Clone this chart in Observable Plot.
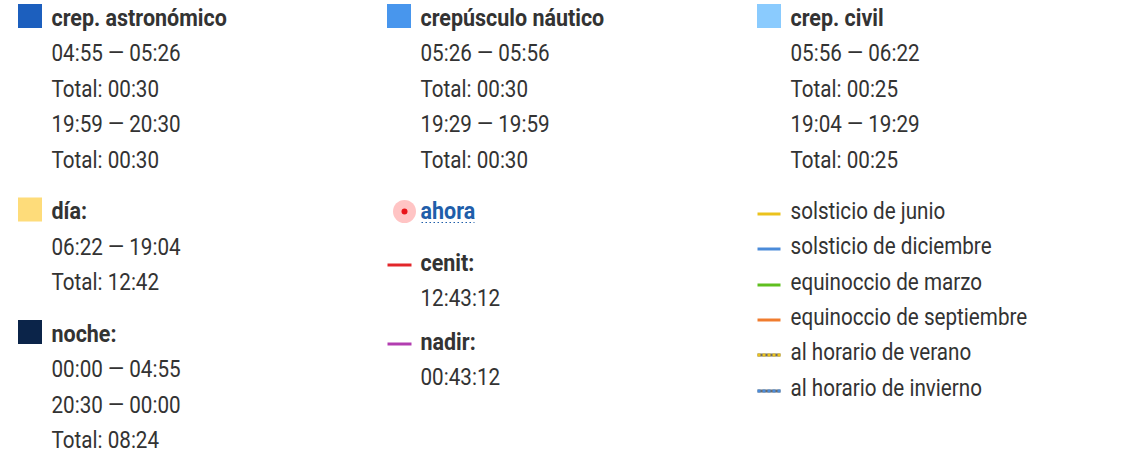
<!DOCTYPE html>
<html>
<head>
<meta charset="utf-8">
<script src="https://cdn.jsdelivr.net/npm/d3@7"></script>
<script src="https://cdn.jsdelivr.net/npm/@observablehq/plot@0.6"></script>
<style>
  html, body { margin: 0; padding: 0; background: #fff; }
  #chart svg { display: block; }
</style>
</head>
<body>
<div id="chart"></div>
<script>
// ---- data ----
const twilightNames = ["crep. astronómico", "crepúsculo náutico", "crep. civil"];
const twilightColors = ["#1c5fbe", "#4896ed", "#8acbfe"];
const twilightMorning = ["04:55 — 05:26", "05:26 — 05:56", "05:56 — 06:22"];
const twilightEvening = ["19:59 — 20:30", "19:29 — 19:59", "19:04 — 19:29"];
const twilightTotals = ["00:30", "00:30", "00:25"];

const dayLabel = "día:";
const dayColor = "#fedc7a";
const dayRanges = ["06:22 — 19:04"];
const dayTotal = "12:42";

const nightLabel = "noche:";
const nightColor = "#0b2449";
const nightRanges = ["00:00 — 04:55", "20:30 — 00:00"];
const nightTotal = "08:24";

const nowLabel = "ahora";
const cenitLabel = "cenit:";
const cenitTime = "12:43:12";
const cenitColor = "#e2262a";
const nadirLabel = "nadir:";
const nadirTime = "00:43:12";
const nadirColor = "#b23db0";

const markerLabels = ["solsticio de junio", "solsticio de diciembre", "equinoccio de marzo",
  "equinoccio de septiembre", "al horario de verano", "al horario de invierno"];
const markerColors = ["#ebc21c", "#4a8bd9", "#5fbf1f", "#f07c2e", "#ebc21c", "#4a8bd9"];
const markerDashed = [false, false, false, false, true, true];

// ---- layout ----
const colX = [18, 387, 757];   // swatch left edge per column
const textOff = 33;            // text start relative to swatch
const LINE = 35.5;
const TEXT = "#333333";

const texts = [], squares = [], lines = [], dashes = [];

function addText(col, y, text, bold = false, color = TEXT) {
  texts.push({x: colX[col] + textOff, y, text, bold, color});
}
const px = v => Math.round(v) + 0.5; // crisp 3px strokes

// twilight blocks (top of each column)
twilightNames.forEach((name, i) => {
  let y = 25;
  squares.push({x: colX[i], y, color: twilightColors[i]});
  addText(i, y, name, true);
  [twilightMorning[i], "Total: " + twilightTotals[i], twilightEvening[i], "Total: " + twilightTotals[i]]
    .forEach((t, k) => addText(i, y + LINE * (k + 1), t));
});

// column 1: día, noche
{
  let y = 25 + LINE * 4 + 51.5;
  squares.push({x: colX[0], y, color: dayColor});
  addText(0, y, dayLabel, true);
  [...dayRanges, "Total: " + dayTotal].forEach((t, k) => addText(0, y + LINE * (k + 1), t));
  y = y + LINE * (dayRanges.length + 1) + 51.5;
  squares.push({x: colX[0], y, color: nightColor});
  addText(0, y, nightLabel, true);
  [...nightRanges, "Total: " + nightTotal].forEach((t, k) => addText(0, y + LINE * (k + 1), t));
}

// column 2: ahora, cenit, nadir
const nowY = 25 + LINE * 4 + 51.5;
const nowPoint = [{x: colX[1] + 17, y: nowY - 7.5}];
addText(1, nowY, nowLabel, true, "#1f5eaa");
const underline = [{x1: colX[1] + textOff + 1, x2: colX[1] + textOff + 54, y: nowY + 3.5}];
{
  let y = nowY + 51.7;
  lines.push({x1: colX[1], x2: colX[1] + 24, y: px(y - 6), color: cenitColor});
  addText(1, y, cenitLabel, true);
  addText(1, y + LINE, cenitTime);
  y = y + LINE + 43.3;
  lines.push({x1: colX[1], x2: colX[1] + 24, y: px(y - 6), color: nadirColor});
  addText(1, y, nadirLabel, true);
  addText(1, y + LINE, nadirTime);
}

// column 3: markers
markerLabels.forEach((label, i) => {
  const y = nowY + 35.3 * i;
  if (markerDashed[i]) {
    lines.push({x1: colX[2], x2: colX[2] + 23, y: px(y - 5.5), color: "#6b6b6b"});
    dashes.push({x1: colX[2], x2: colX[2] + 23, y: px(y - 5.5), color: markerColors[i]});
  } else {
    lines.push({x1: colX[2], x2: colX[2] + 23, y: px(y - 5.5), color: markerColors[i]});
  }
  addText(2, y, label);
});

const fontCommon = {fontFamily: "Roboto, 'Noto Sans', sans-serif", fontSize: 24, textAnchor: "start", lineAnchor: "bottom"};

const chart = Plot.plot({
  width: 1131,
  height: 458,
  margin: 0,
  x: {type: "identity", axis: null},
  y: {type: "identity", axis: null},
  style: {background: "#fff"},
  marks: [
    Plot.rect(squares, {x1: "x", x2: d => d.x + 24, y1: d => d.y - 21, y2: d => d.y + 3, fill: "color", inset: 0}),
    Plot.link(lines, {x1: "x1", x2: "x2", y1: "y", y2: "y", stroke: "color", strokeWidth: 3}),
    Plot.link(dashes, {x1: "x1", x2: "x2", y1: "y", y2: "y", stroke: "color", strokeWidth: 3, strokeDasharray: "3,2"}),
    Plot.dot(nowPoint, {x: "x", y: "y", r: 11.5, fill: "#ffc4c4", stroke: null}),
    Plot.dot(nowPoint, {x: "x", y: "y", r: 3, fill: "#e8141a", stroke: null}),
    Plot.link(underline, {x1: "x1", x2: "x2", y1: "y", y2: "y", stroke: "#1f5eaa", strokeWidth: 1, strokeDasharray: "1.5,2.5"}),
    Plot.text(texts.filter(d => !d.bold), {x: "x", y: "y", text: "text", fill: "color", ...fontCommon, className: "cond"}),
    Plot.text(texts.filter(d => d.bold), {x: "x", y: "y", text: "text", fill: "color", fontWeight: "bold", ...fontCommon, className: "condb"})
  ]
});

// emulate a condensed face: squeeze each label horizontally around its anchor
function squeeze(sel, k) {
  chart.querySelectorAll(sel).forEach(t => {
    const tr = t.getAttribute("transform");
    if (tr) {
      t.setAttribute("transform", tr + ` scale(${k},1)`);
    } else {
      const x = +t.getAttribute("x") || 0, y = +t.getAttribute("y") || 0;
      t.removeAttribute("x"); t.removeAttribute("y");
      t.setAttribute("transform", `translate(${x},${y}) scale(${k},1)`);
    }
  });
}
squeeze(".cond text", 0.86);
squeeze(".condb text", 0.895);

document.getElementById("chart").appendChild(chart);
</script>
</body>
</html>
